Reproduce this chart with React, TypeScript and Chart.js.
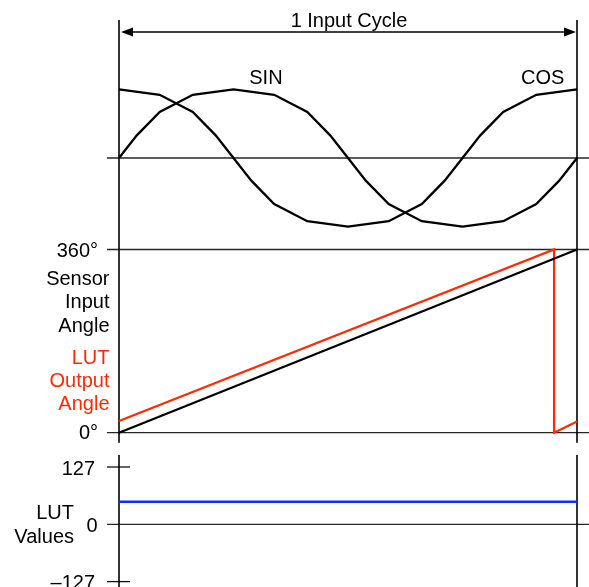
import { useEffect, useRef } from 'react';
import { Chart, registerables } from 'chart.js';

Chart.register(...registerables);

// ---- data (x in degrees of one input cycle) ----
const sinDeg = [0, 14, 32, 58, 90, 122, 148, 166, 180, 194, 212, 238, 270, 302, 328, 346, 360];
const sinVal = [0, 0.33, 0.67, 0.92, 1, 0.92, 0.67, 0.33, 0, -0.33, -0.67, -0.92, -1, -0.92, -0.67, -0.33, 0];
const cosDeg = [0, 32, 58, 76, 90, 104, 122, 148, 180, 212, 238, 256, 270, 284, 302, 328, 360];
const cosVal = [1, 0.92, 0.67, 0.33, 0, -0.33, -0.67, -0.92, -1, -0.92, -0.67, -0.33, 0, 0.33, 0.67, 0.92, 1];
const inputDeg = [0, 360];
const inputAngle = [0, 360];
const lutDeg = [0, 342, 342, 360];
const lutAngle = [23, 360, 0, 22];
const lutValDeg = [0, 360];
const lutValues = [50, 50];
const angleTickValues = [360, 0];
const angleTickLabels = ['360°', '0°'];
const lutTickValues = [127, 0, -127];
const lutTickLabels = ['127', '0', '–127'];
const curveLabels = ['SIN', 'COS'];
const curveLabelDeg = [115.5, 333];
const titleText = '1 Input Cycle';
const sensorLabel = ['Sensor', 'Input', 'Angle'];
const lutOutLabel = ['LUT', 'Output', 'Angle'];
const lutValLabel = ['LUT', 'Values'];

const W = 589;
const H = 587;
const PAD_LEFT = 119;
const PAD_RIGHT = 12;
const PAD_TOP = 20;
const RED = '#ff2a00';
const BLUE = '#0a30ff';
const FONT = '20px "Liberation Sans", Arial, Helvetica, sans-serif';

// y range of a full-height hidden axis so that value v1 sits at pixel p1 and v2 at p2
function rangeFor(v1: number, p1: number, v2: number, p2: number) {
  const k = (p2 - p1) / (v2 - v1);
  return { min: v1 + (H - p1) / k, max: v1 + (PAD_TOP - p1) / k };
}
const trigRange = rangeFor(1, 89.3, -1, 226.7);
const angleRange = rangeFor(360, 249.5, 0, 432.7);
const lutRange = rangeFor(127, 467, 0, 524.3);

const pts = (xs: number[], ys: number[]) => xs.map((x, i) => ({ x, y: ys[i] }));

const decor = {
  id: 'decor',
  beforeDatasetsDraw(chart: any) {
    const { ctx, chartArea, scales } = chart;
    const { left, right, top } = chartArea;
    const yT = scales.yTrig, yA = scales.yAngle, yL = scales.yLut;
    ctx.save();
    const hline = (y: number, x0: number, x1: number) => {
      ctx.beginPath(); ctx.moveTo(x0, y); ctx.lineTo(x1, y); ctx.stroke();
    };
    const vline = (x: number, y0: number, y1: number) => {
      ctx.beginPath(); ctx.moveTo(x, y0); ctx.lineTo(x, y1); ctx.stroke();
    };
    ctx.strokeStyle = '#262626';
    ctx.lineWidth = 1.3;
    hline(yT.getPixelForValue(0), left - 12, chart.width);
    angleTickValues.forEach((v) => hline(yA.getPixelForValue(v), left - 12, chart.width));
    hline(yL.getPixelForValue(0), left - 12, chart.width);
    ctx.strokeStyle = '#111';
    hline(yL.getPixelForValue(127), left - 12, left + 11);
    hline(yL.getPixelForValue(-127), left - 12, left + 11);

    ctx.strokeStyle = '#000';
    ctx.lineWidth = 1.6;
    const upperEnd = yA.getPixelForValue(0) + 10;
    const lowerStart = yL.getPixelForValue(127) - 12;
    [left, right].forEach((x) => {
      vline(x, top, upperEnd);
      vline(x, lowerStart, chart.height);
    });

    // arrow "1 Input Cycle"
    const ay = top + 12;
    ctx.lineWidth = 1.3;
    hline(ay, left + 4, right - 4);
    ctx.fillStyle = '#000';
    ctx.beginPath();
    ctx.moveTo(left + 2, ay); ctx.lineTo(left + 14, ay - 4.5); ctx.lineTo(left + 14, ay + 4.5); ctx.closePath();
    ctx.fill();
    ctx.beginPath();
    ctx.moveTo(right - 1, ay); ctx.lineTo(right - 13, ay - 4.5); ctx.lineTo(right - 13, ay + 4.5); ctx.closePath();
    ctx.fill();
    ctx.restore();
  },
  afterDatasetsDraw(chart: any) {
    const { ctx, chartArea, scales } = chart;
    const { left, right, top } = chartArea;
    const x = scales.x, yT = scales.yTrig, yA = scales.yAngle, yL = scales.yLut;
    ctx.save();
    ctx.font = FONT;
    ctx.textBaseline = 'alphabetic';
    ctx.fillStyle = '#000';

    ctx.textAlign = 'center';
    ctx.fillText(titleText, (left + right) / 2 + 1, top + 7);
    curveLabels.forEach((t, i) => ctx.fillText(t, x.getPixelForValue(curveLabelDeg[i]), yT.getPixelForValue(1) - 5));

    ctx.textAlign = 'right';
    // angle panel
    ctx.fillText(angleTickLabels[0], left - 21, yA.getPixelForValue(angleTickValues[0]) + 7);
    ctx.fillText(angleTickLabels[1], left - 21, yA.getPixelForValue(angleTickValues[1]) + 6);
    const a360 = yA.getPixelForValue(360);
    sensorLabel.forEach((t, i) => ctx.fillText(t, left - 9.5, a360 + 35.5 + i * 23.3));
    ctx.fillStyle = RED;
    lutOutLabel.forEach((t, i) => ctx.fillText(t, left - 9.5, a360 + 114 + i * 23.3));

    // LUT panel
    ctx.fillStyle = '#000';
    const tickRight = [left - 24, left - 21.5, left - 24];
    lutTickLabels.forEach((t, i) => ctx.fillText(t, tickRight[i], yL.getPixelForValue(lutTickValues[i]) + 7.7));
    const l0 = yL.getPixelForValue(0);
    lutValLabel.forEach((t, i) => ctx.fillText(t, left - 45, l0 - 5.3 + i * 24));
    ctx.restore();
  },
};

export default function App() {
  const ref = useRef<HTMLCanvasElement | null>(null);
  useEffect(() => {
    if (!ref.current) return;
    const chart = new Chart(ref.current, {
      type: 'line',
      data: {
        datasets: [
          { label: 'SIN', data: pts(sinDeg, sinVal), yAxisID: 'yTrig', borderColor: '#000', borderWidth: 2.3 },
          { label: 'COS', data: pts(cosDeg, cosVal), yAxisID: 'yTrig', borderColor: '#000', borderWidth: 2.3 },
          { label: 'Sensor Input Angle', data: pts(inputDeg, inputAngle), yAxisID: 'yAngle', borderColor: '#000', borderWidth: 2.3 },
          { label: 'LUT Output Angle', data: pts(lutDeg, lutAngle), yAxisID: 'yAngle', borderColor: RED, borderWidth: 2.3 },
          { label: 'LUT Values', data: pts(lutValDeg, lutValues), yAxisID: 'yLut', borderColor: BLUE, borderWidth: 2.6 },
        ].map((d) => ({ ...d, pointRadius: 0, tension: 0, fill: false, clip: false as any, borderCapStyle: 'butt' as const })),
      },
      options: {
        responsive: false,
        animation: false,
        events: [],
        layout: { padding: { left: PAD_LEFT, right: PAD_RIGHT, top: PAD_TOP, bottom: 0 } },
        plugins: { legend: { display: false }, tooltip: { enabled: false } },
        scales: {
          x: { type: 'linear', min: 0, max: 360, display: false },
          yTrig: { type: 'linear', position: 'left', min: trigRange.min, max: trigRange.max, display: false },
          yAngle: { type: 'linear', position: 'left', min: angleRange.min, max: angleRange.max, display: false },
          yLut: { type: 'linear', position: 'left', min: lutRange.min, max: lutRange.max, display: false },
        },
      },
      plugins: [decor],
    });
    return () => chart.destroy();
  }, []);
  return (
    <div style={{ position: 'absolute', left: 0, top: 0, width: W, height: H, background: '#fff' }}>
      <canvas ref={ref} width={W} height={H} style={{ display: 'block' }} />
    </div>
  );
}
